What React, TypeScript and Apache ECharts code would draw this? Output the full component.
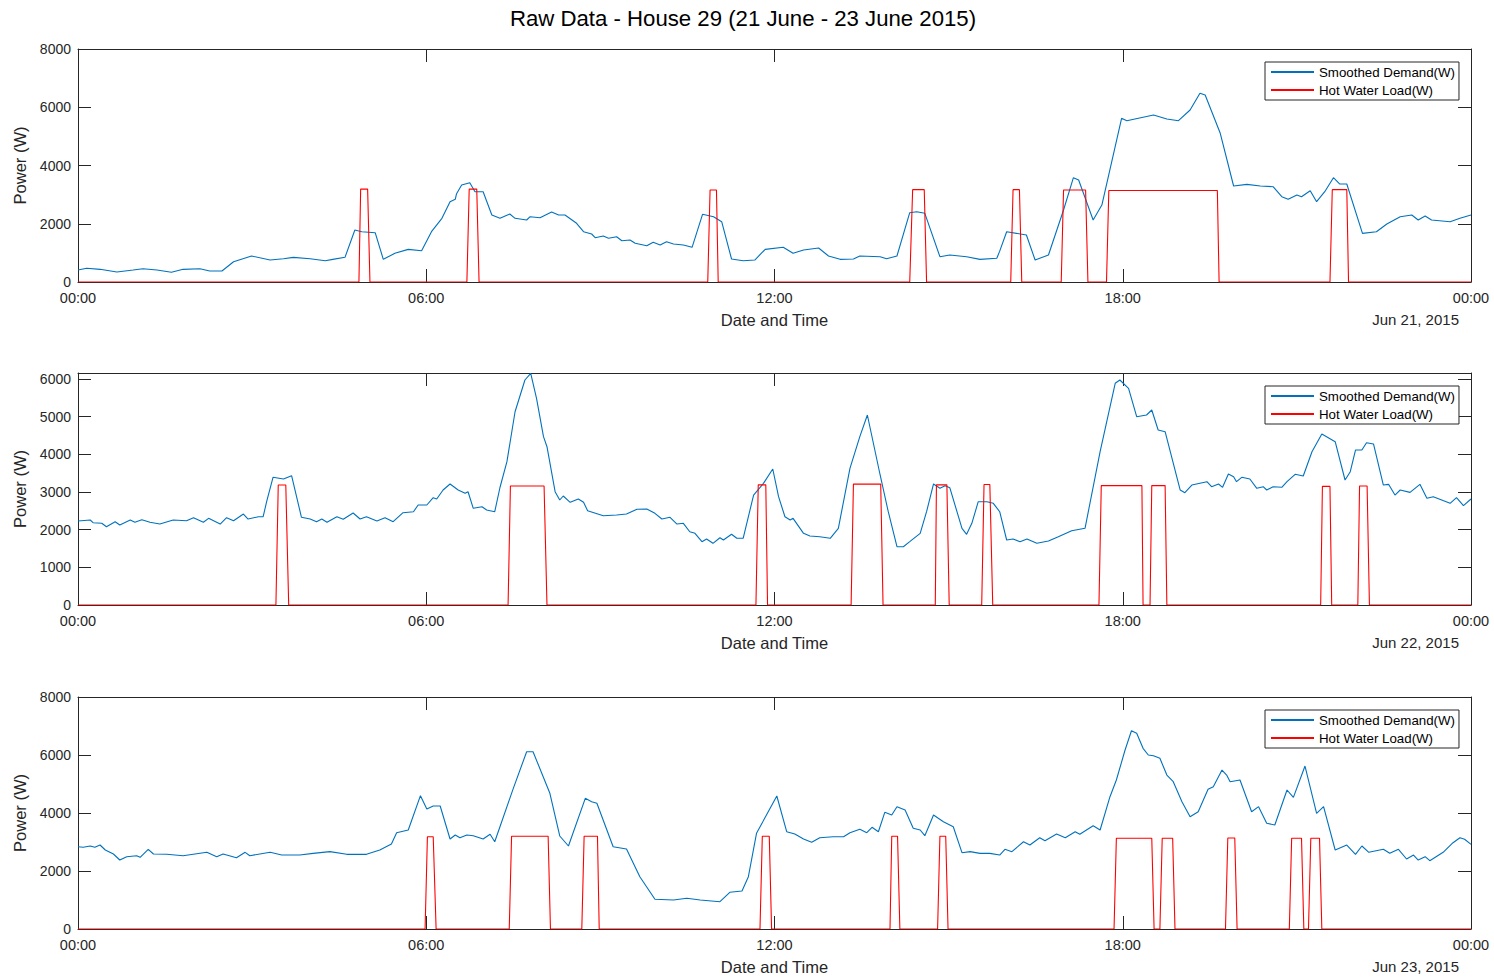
import React, { useEffect, useRef } from "react";
import * as echarts from "echarts";

// Smoothed demand per day: [hour of day, watts]
const demandJun21: [number, number][] = [
  [0.0, 412], [0.15, 470], [0.38, 435], [0.67, 343], [0.95, 412], [1.12, 457], [1.36, 412], [1.61, 332],
  [1.81, 435], [2.1, 457], [2.27, 378], [2.48, 378], [2.68, 697], [2.99, 893], [3.31, 755], [3.54, 800],
  [3.71, 847], [4.0, 800], [4.26, 732], [4.39, 778], [4.6, 847], [4.77, 1785], [4.89, 1727], [5.12, 1693],
  [5.26, 778], [5.46, 985], [5.69, 1121], [5.92, 1075], [6.09, 1727], [6.27, 2187], [6.41, 2757], [6.5, 2839],
  [6.52, 3021], [6.61, 3330], [6.75, 3409], [6.84, 3100], [6.98, 3100], [7.13, 2300], [7.27, 2187], [7.44, 2334],
  [7.53, 2187], [7.73, 2128], [7.79, 2242], [7.96, 2208], [8.16, 2403], [8.28, 2300], [8.39, 2300], [8.59, 2015],
  [8.71, 1727], [8.85, 1648], [8.91, 1521], [9.05, 1579], [9.14, 1500], [9.28, 1555], [9.37, 1418], [9.51, 1442],
  [9.6, 1329], [9.8, 1246], [9.91, 1363], [10.03, 1270], [10.14, 1384], [10.26, 1304], [10.43, 1270], [10.58, 1191],
  [10.76, 2324], [10.95, 2242], [11.09, 2070], [11.26, 790], [11.46, 732], [11.66, 755], [11.84, 1121], [12.15, 1191],
  [12.32, 985], [12.5, 1099], [12.76, 1167], [12.93, 893], [13.13, 778], [13.36, 790], [13.47, 893], [13.82, 869],
  [13.93, 800], [14.11, 893], [14.33, 2380], [14.45, 2414], [14.59, 2358], [14.85, 869], [15.02, 927], [15.31, 869],
  [15.54, 778], [15.83, 813], [15.88, 1060], [16.0, 1727], [16.34, 1614], [16.49, 755], [16.72, 927], [16.98, 2472],
  [17.15, 3581], [17.24, 3502], [17.49, 2128], [17.64, 2643], [17.98, 5620], [18.07, 5538], [18.53, 5733], [18.76, 5596],
  [18.96, 5538], [19.16, 5905], [19.33, 6478], [19.42, 6420], [19.68, 5105], [19.91, 3296], [20.14, 3353], [20.37, 3296],
  [20.59, 3272], [20.74, 2929], [20.85, 2839], [21.0, 2987], [21.08, 2929], [21.23, 3135], [21.34, 2757], [21.48, 3100],
  [21.63, 3581], [21.74, 3364], [21.86, 3364], [22.13, 1670], [22.37, 1727], [22.55, 1991], [22.78, 2242], [22.98, 2300],
  [23.09, 2128], [23.21, 2266], [23.32, 2128], [23.64, 2070], [23.81, 2187], [24.0, 2300],
];

const demandJun22: [number, number][] = [
  [0.0, 2230], [0.21, 2257], [0.26, 2185], [0.41, 2169], [0.49, 2079], [0.64, 2212], [0.72, 2124], [0.9, 2257],
  [0.98, 2196], [1.1, 2265], [1.24, 2196], [1.41, 2150], [1.64, 2257], [1.87, 2238], [1.99, 2318], [2.16, 2196],
  [2.25, 2301], [2.45, 2150], [2.56, 2318], [2.68, 2238], [2.85, 2416], [2.93, 2283], [3.11, 2344], [3.19, 2344],
  [3.25, 2743], [3.36, 3390], [3.54, 3345], [3.68, 3433], [3.85, 2328], [4.0, 2283], [4.11, 2212], [4.2, 2283],
  [4.29, 2196], [4.46, 2344], [4.57, 2275], [4.74, 2443], [4.86, 2283], [4.97, 2344], [5.15, 2230], [5.29, 2318],
  [5.43, 2212], [5.6, 2451], [5.78, 2477], [5.86, 2655], [6.01, 2655], [6.12, 2849], [6.18, 2814], [6.29, 3053],
  [6.41, 3213], [6.55, 3053], [6.67, 2965], [6.72, 3008], [6.81, 2567], [6.96, 2610], [7.04, 2522], [7.18, 2477],
  [7.27, 3120], [7.39, 3805], [7.53, 5132], [7.7, 5974], [7.8, 6150], [7.9, 5488], [8.02, 4469], [8.08, 4203],
  [8.22, 3008], [8.3, 2788], [8.36, 2894], [8.48, 2726], [8.62, 2814], [8.71, 2726], [8.78, 2504], [9.05, 2371],
  [9.28, 2390], [9.45, 2416], [9.63, 2541], [9.8, 2549], [9.94, 2434], [10.06, 2283], [10.2, 2328], [10.32, 2150],
  [10.43, 2169], [10.54, 1946], [10.63, 1903], [10.75, 1681], [10.83, 1752], [10.94, 1638], [11.06, 1787], [11.12, 1726],
  [11.26, 1877], [11.35, 1771], [11.46, 1771], [11.64, 2920], [11.81, 3230], [11.97, 3611], [12.07, 2876], [12.18, 2344],
  [12.27, 2257], [12.32, 2301], [12.5, 1903], [12.61, 1832], [12.78, 1814], [12.96, 1771], [13.1, 2036], [13.3, 3629],
  [13.47, 4469], [13.6, 5045], [13.82, 3452], [13.96, 2477], [14.11, 1548], [14.22, 1548], [14.33, 1681], [14.51, 1903],
  [14.62, 2477], [14.74, 3213], [14.85, 3098], [14.94, 3168], [15.02, 3115], [15.23, 2036], [15.31, 1877], [15.4, 2169],
  [15.51, 2743], [15.66, 2743], [15.77, 2700], [15.88, 2477], [16.0, 1726], [16.11, 1752], [16.23, 1681], [16.35, 1752],
  [16.52, 1638], [16.72, 1699], [16.89, 1814], [17.12, 1973], [17.35, 2036], [17.61, 4070], [17.87, 5886], [17.95, 5974],
  [18.1, 5753], [18.24, 5000], [18.41, 5045], [18.5, 5177], [18.61, 4646], [18.73, 4601], [18.99, 3053], [19.07, 2982],
  [19.19, 3186], [19.45, 3274], [19.53, 3141], [19.65, 3213], [19.72, 3125], [19.82, 3478], [19.91, 3407], [19.96, 3274],
  [20.05, 3390], [20.19, 3345], [20.31, 3098], [20.42, 3141], [20.48, 3053], [20.59, 3141], [20.74, 3125], [20.83, 3274],
  [20.97, 3470], [21.11, 3425], [21.26, 4070], [21.43, 4540], [21.66, 4336], [21.83, 3319], [21.92, 3539], [22.01, 4115],
  [22.12, 4115], [22.2, 4310], [22.32, 4275], [22.49, 3186], [22.58, 3204], [22.69, 2920], [22.78, 3053], [22.95, 2991],
  [23.12, 3204], [23.24, 2832], [23.35, 2876], [23.64, 2700], [23.75, 2849], [23.87, 2637], [24.0, 2814],
];

const demandJun23: [number, number][] = [
  [0.0, 2838], [0.09, 2817], [0.21, 2862], [0.29, 2817], [0.38, 2896], [0.47, 2724], [0.61, 2586], [0.72, 2379],
  [0.84, 2494], [1.01, 2528], [1.07, 2471], [1.21, 2748], [1.3, 2586], [1.53, 2575], [1.81, 2528], [2.22, 2644],
  [2.39, 2494], [2.5, 2586], [2.73, 2460], [2.88, 2644], [2.96, 2528], [3.31, 2644], [3.51, 2551], [3.82, 2551],
  [4.05, 2609], [4.34, 2667], [4.63, 2575], [4.97, 2575], [5.2, 2724], [5.4, 2931], [5.49, 3321], [5.69, 3414],
  [5.9, 4597], [6.01, 4138], [6.12, 4241], [6.24, 4241], [6.41, 3103], [6.5, 3241], [6.58, 3148], [6.7, 3241],
  [6.81, 3217], [6.98, 3103], [7.1, 3265], [7.18, 3010], [7.27, 3527], [7.5, 4851], [7.73, 6113], [7.84, 6113],
  [8.13, 4679], [8.3, 3207], [8.45, 2862], [8.74, 4506], [8.85, 4391], [8.94, 4334], [9.22, 2838], [9.45, 2758],
  [9.68, 1803], [9.94, 1024], [10.26, 1000], [10.49, 1058], [10.72, 1000], [11.06, 941], [11.23, 1265], [11.44, 1310],
  [11.55, 1803], [11.69, 3300], [12.04, 4586], [12.21, 3355], [12.35, 3276], [12.5, 3103], [12.64, 2989], [12.78, 3148],
  [13.01, 3183], [13.19, 3183], [13.3, 3321], [13.47, 3438], [13.59, 3321], [13.68, 3507], [13.79, 3355], [13.9, 4024],
  [14.02, 3931], [14.11, 4218], [14.25, 4103], [14.39, 3472], [14.51, 3414], [14.59, 3217], [14.74, 3931], [14.91, 3700],
  [15.08, 3527], [15.23, 2632], [15.37, 2667], [15.54, 2609], [15.71, 2609], [15.88, 2551], [15.97, 2748], [16.09, 2667],
  [16.29, 3010], [16.4, 2896], [16.57, 3148], [16.66, 3045], [16.86, 3276], [17.01, 3148], [17.18, 3355], [17.26, 3265],
  [17.49, 3562], [17.61, 3414], [17.78, 4562], [17.89, 5138], [18.04, 6172], [18.15, 6837], [18.24, 6747], [18.35, 6230],
  [18.44, 6000], [18.53, 5976], [18.64, 5885], [18.76, 5310], [18.87, 5079], [19.02, 4391], [19.16, 3872], [19.3, 4045],
  [19.47, 4816], [19.56, 4907], [19.71, 5482], [19.79, 5310], [19.85, 5079], [20.02, 5138], [20.22, 4045], [20.34, 4218],
  [20.48, 3645], [20.62, 3586], [20.83, 4793], [20.94, 4540], [21.14, 5620], [21.34, 3989], [21.46, 4218], [21.66, 2724],
  [21.86, 2896], [22.01, 2575], [22.12, 2862], [22.24, 2644], [22.49, 2748], [22.6, 2609], [22.75, 2748], [22.89, 2414],
  [23.01, 2551], [23.09, 2379], [23.21, 2494], [23.29, 2355], [23.52, 2644], [23.69, 2976], [23.81, 3148], [23.89, 3093],
  [24.0, 2920],
];

// Hot water element cycles: [switch-on start, full load, switch-off start, off, watts]
const hotWaterJun21: number[][] = [
  [4.84, 4.87, 4.99, 5.03, 3190], [6.7, 6.74, 6.87, 6.91, 3190], [10.85, 10.89, 11.0, 11.03, 3160],
  [14.33, 14.38, 14.58, 14.62, 3170], [16.07, 16.11, 16.22, 16.26, 3170], [16.94, 16.98, 17.36, 17.4, 3160],
  [17.72, 17.76, 19.63, 19.66, 3140], [21.57, 21.61, 21.86, 21.89, 3170],
];

const hotWaterJun22: number[][] = [
  [3.41, 3.45, 3.58, 3.63, 3186], [7.41, 7.45, 8.03, 8.08, 3160], [11.68, 11.72, 11.85, 11.88, 3190],
  [13.32, 13.36, 13.83, 13.87, 3210], [14.77, 14.79, 14.97, 15.01, 3190], [15.57, 15.61, 15.71, 15.76, 3200],
  [17.59, 17.63, 18.33, 18.35, 3170], [18.47, 18.5, 18.73, 18.76, 3170], [21.41, 21.44, 21.57, 21.6, 3150],
  [22.05, 22.08, 22.21, 22.25, 3160],
];

const hotWaterJun23: number[][] = [
  [5.98, 6.02, 6.12, 6.17, 3180], [7.43, 7.47, 8.1, 8.14, 3200], [8.68, 8.72, 8.95, 8.98, 3200],
  [11.75, 11.79, 11.91, 11.95, 3200], [13.99, 14.02, 14.12, 14.16, 3200], [14.81, 14.85, 14.95, 14.99, 3200],
  [17.85, 17.89, 18.5, 18.54, 3130], [18.64, 18.68, 18.86, 18.9, 3130], [19.77, 19.81, 19.93, 19.97, 3140],
  [20.87, 20.91, 21.08, 21.12, 3130], [21.2, 21.24, 21.39, 21.43, 3130],
];

const dayLabels = ["Jun 21, 2015", "Jun 22, 2015", "Jun 23, 2015"];
const yMax = [8000, 6160, 8000];
const yStep = [2000, 1000, 2000];
const hourTicks = 6;

const TITLE = "Raw Data - House 29 (21 June - 23 June 2015)";
const DEMAND_NAME = "Smoothed Demand(W)";
const HOT_WATER_NAME = "Hot Water Load(W)";
const BLUE = "#0072BD";
const RED = "#FF0000";
const AXIS = "#262626";
const FONT = "'Liberation Sans', Arial, Helvetica, sans-serif";

const panelTops = [49, 373, 697];
const panelHeights = [233, 232, 232];
const PLOT_LEFT = 78;
const PLOT_WIDTH = 1393;

function pulsesToLine(pulses: number[][]): [number, number][] {
  const pts: [number, number][] = [[0, 0]];
  for (const [a, b, c, d, w] of pulses) {
    pts.push([a, 0], [b, w], [c, w], [d, 0]);
  }
  pts.push([24, 0]);
  return pts;
}

const hourLabel = (v: number) => `${String(Math.round(v) % 24).padStart(2, "0")}:00`;

export default function App() {
  const ref = useRef<HTMLDivElement>(null);

  useEffect(() => {
    document.body.style.margin = "0";
    if (!ref.current) return;
    const chart = echarts.init(ref.current, undefined, { renderer: "svg" });

    const demand = [demandJun21, demandJun22, demandJun23];
    const hotWater = [hotWaterJun21, hotWaterJun22, hotWaterJun23];

    const grid: any[] = [];
    const xAxis: any[] = [];
    const yAxis: any[] = [];
    const series: any[] = [];
    const legend: any[] = [];
    const graphic: any[] = [
      {
        type: "text",
        x: 743,
        y: 18,
        style: { text: TITLE, font: `22.2px ${FONT}`, fill: "#000", textAlign: "center", textVerticalAlign: "middle" },
      },
    ];

    const tick = { show: true, inside: true, length: 13, lineStyle: { color: AXIS, width: 1 } };
    const line = { show: true, onZero: false, lineStyle: { color: AXIS, width: 1 } };

    for (let i = 0; i < 3; i++) {
      grid.push({ left: PLOT_LEFT, top: panelTops[i], width: PLOT_WIDTH, height: panelHeights[i] });
      xAxis.push({
        type: "value", gridIndex: i, min: 0, max: 24, interval: hourTicks, position: "bottom",
        axisLine: line, axisTick: tick, splitLine: { show: false },
        axisLabel: { margin: 8, color: AXIS, fontSize: 14.5, fontFamily: FONT, formatter: hourLabel },
        name: "Date and Time", nameLocation: "middle", nameGap: 29,
        nameTextStyle: { color: AXIS, fontSize: 16.5, fontFamily: FONT },
      });
      xAxis.push({
        type: "value", gridIndex: i, min: 0, max: 24, interval: hourTicks, position: "top",
        axisLine: line, axisTick: tick, splitLine: { show: false }, axisLabel: { show: false },
      });
      yAxis.push({
        type: "value", gridIndex: i, min: 0, max: yMax[i], interval: yStep[i], position: "left",
        axisLine: line, axisTick: tick, splitLine: { show: false },
        axisLabel: {
          margin: 7, color: AXIS, fontSize: 14, fontFamily: FONT,
          showMaxLabel: yMax[i] % yStep[i] === 0,
          formatter: (v: number) => String(v),
        },
        name: "Power (W)", nameLocation: "middle", nameGap: 43,
        nameTextStyle: { color: AXIS, fontSize: 16.5, fontFamily: FONT },
      });
      yAxis.push({
        type: "value", gridIndex: i, min: 0, max: yMax[i], interval: yStep[i], position: "right",
        axisLine: line, axisTick: tick, splitLine: { show: false }, axisLabel: { show: false },
      });
      series.push({
        type: "line", name: DEMAND_NAME, xAxisIndex: 2 * i, yAxisIndex: 2 * i, data: demand[i],
        symbol: "none", lineStyle: { color: BLUE, width: 1.1 }, itemStyle: { color: BLUE }, z: 3,
      });
      series.push({
        type: "line", name: HOT_WATER_NAME, xAxisIndex: 2 * i, yAxisIndex: 2 * i, data: pulsesToLine(hotWater[i]),
        symbol: "none", lineStyle: { color: RED, width: 1.1 }, itemStyle: { color: RED }, z: 4,
      });
      legend.push({
        left: 1265, top: panelTops[i] + 13, orient: "vertical", itemWidth: 43, itemHeight: 14, itemGap: 4,
        padding: [3, 4, 3, 5], borderColor: AXIS, borderWidth: 1, backgroundColor: "#fff", borderRadius: 0,
        selectedMode: false,
        itemStyle: { color: "transparent", borderColor: "transparent", borderWidth: 0 },
        textStyle: { fontSize: 13.3, lineHeight: 14, color: "#000", fontFamily: FONT },
        data: [DEMAND_NAME, HOT_WATER_NAME],
      });
      graphic.push({
        type: "text",
        x: 1459,
        y: panelTops[i] + panelHeights[i] + 37,
        style: { text: dayLabels[i], font: `15px ${FONT}`, fill: AXIS, textAlign: "right", textVerticalAlign: "middle" },
      });
    }

    chart.setOption({
      animation: false,
      backgroundColor: "#fff",
      grid, xAxis, yAxis, series, legend, graphic,
    });

    return () => chart.dispose();
  }, []);

  return <div ref={ref} style={{ width: 1494, height: 979, position: "absolute", left: 0, top: 0 }} />;
}
